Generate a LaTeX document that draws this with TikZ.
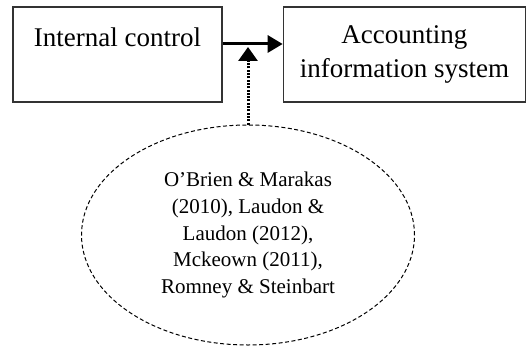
\documentclass[tikz,border=0pt]{standalone}
\usepackage{fontspec}
\setmainfont{Liberation Serif}
\usetikzlibrary{shapes.geometric, arrows.meta, positioning}

\begin{document}
\begin{tikzpicture}[
    x=1pt, y=-1pt,
    node distance=60pt,
    box/.style={rectangle, draw=black!80, line width=1.4pt, align=center, minimum height=95pt, font=\fontsize{27}{34}\selectfont},
    source/.style={ellipse, draw=black, dash pattern=on 4pt off 2.5pt, line width=1pt, align=center, inner sep=0pt, minimum width=333pt, minimum height=220pt, font=\fontsize{21}{26.7}\selectfont},
    arrow/.style={-{Triangle[length=15pt, width=17pt]}, line width=3pt},
    effect/.style={-{Triangle[length=14pt, width=19pt]}, line width=3pt, dash pattern=on 2pt off 1.3pt}
]
\useasboundingbox (0,0) rectangle (526,350);

% Bloques
\node[box, minimum width=209pt] (ic) at (117.5,54.5) {Internal control\\~};
\node[box, minimum width=242pt, right=of ic] (ais) {Accounting\\information system};

% Fuentes
\node[source] (lit) at (248,235) {O'Brien \& Marakas\\(2010), Laudon \&\\Laudon (2012),\\Mckeown (2011),\\Romney \& Steinbart};

% Puntos de union
\coordinate (link) at (248,44);
\coordinate (hit) at (248,47);

% Flechas
\draw[arrow] (ic.east |- link) -- (ais.west |- link);
\draw[effect] (lit.north) -- (hit);

\end{tikzpicture}
\end{document}
